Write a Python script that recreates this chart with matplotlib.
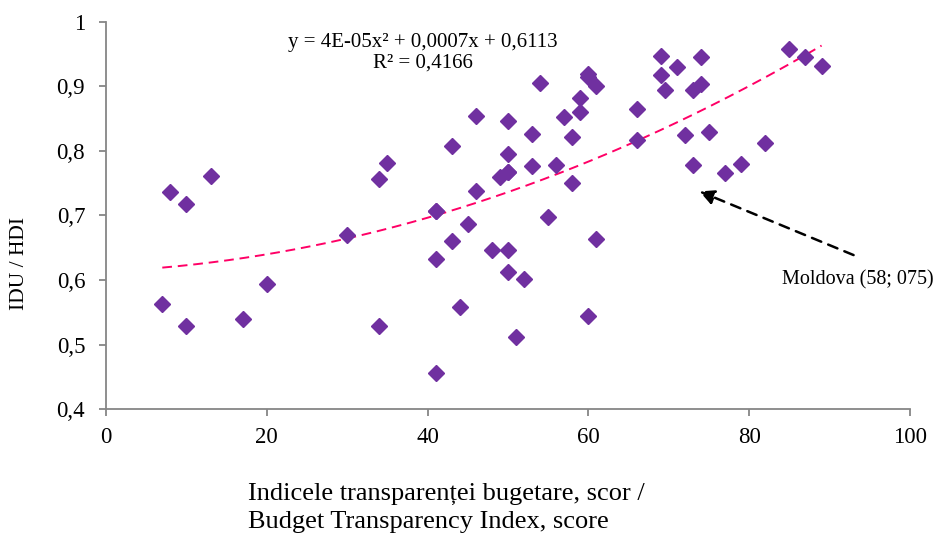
import matplotlib.pyplot as plt
import numpy as np

# Indicele transparentei bugetare (x) si IDU (y)
scor = [7, 8, 10, 10, 13, 17, 20, 30, 34, 34, 35,
        41, 41, 41, 41, 43, 43, 44, 45, 46, 46, 48, 49, 50, 50, 50, 50, 50, 50,
        51, 52, 53, 53, 54, 55, 56, 57, 58, 58, 59, 59, 60, 60, 60, 61, 61,
        66, 66, 69, 69, 69.5, 71, 72, 73, 73, 74, 74, 75, 77, 79, 82, 85, 87, 89]
idu = [0.563, 0.736, 0.718, 0.529, 0.762, 0.540, 0.594, 0.669, 0.757, 0.529, 0.781,
       0.707, 0.633, 0.456, 0.707, 0.807, 0.660, 0.558, 0.687, 0.855, 0.738, 0.646, 0.760,
       0.846, 0.795, 0.767, 0.646, 0.612, 0.767,
       0.512, 0.602, 0.826, 0.777, 0.905, 0.698, 0.778, 0.852, 0.821, 0.751, 0.882, 0.860,
       0.920, 0.915, 0.544, 0.901, 0.664,
       0.865, 0.817, 0.948, 0.918, 0.894, 0.930, 0.825, 0.894, 0.778, 0.945, 0.904, 0.829,
       0.766, 0.780, 0.813, 0.958, 0.946, 0.932]

ecuatie = 'y = 4E-05x² + 0,0007x + 0,6113'
r_patrat = 'R² = 0,4166'
moldova_text = 'Moldova (58; 075)'

plt.rcParams['font.family'] = ['Liberation Serif', 'DejaVu Serif']

fig = plt.figure(figsize=(9.44, 5.35), dpi=100)
ax = fig.add_axes([0.1123, 0.2355, 0.8517, 0.7234])

x = np.array(scor)
y = np.array(idu)
ax.plot(x, y, linestyle='none', marker='D', markersize=8,
        color='#7030A0', markeredgecolor='#7030A0', zorder=3)

# linie de tendinta polinomiala (ordin 2)
coef = np.polyfit(x, y, 2)
xt = np.linspace(x.min(), x.max(), 200)
ax.plot(xt, np.polyval(coef, xt), linestyle=(0, (5, 3)), color='#FF0066',
        linewidth=1.4, zorder=2)

ax.text(39.4, 0.961, ecuatie, ha='center', va='baseline', fontsize=15)
ax.text(39.4, 0.930, r_patrat, ha='center', va='baseline', fontsize=15)

# sageata catre Moldova
ax.annotate('', xy=(73.5, 0.739), xytext=(93.3, 0.637),
            arrowprops=dict(arrowstyle='-|>', linestyle=(0, (4, 3)), lw=1.8,
                            color='black', mutation_scale=22))
ax.text(84.1, 0.600, moldova_text, ha='left', va='center', fontsize=14.5,
        clip_on=False)

ax.set_xlim(0, 100)
ax.set_ylim(0.4, 1.0)
ax.set_xticks(np.arange(0, 101, 20))
ax.set_yticks(np.arange(0.4, 1.01, 0.1))
ax.set_yticklabels(['0,4', '0,5', '0,6', '0,7', '0,8', '0,9', '1'])

for side in ['top', 'right']:
    ax.spines[side].set_visible(False)
for side in ['left', 'bottom']:
    ax.spines[side].set_color('#868686')
    ax.spines[side].set_linewidth(1.3)
ax.tick_params(axis='both', direction='out', length=5, width=1.3,
               color='#868686', labelsize=16.5)
ax.tick_params(axis='y', pad=10)
ax.tick_params(axis='x', pad=8)

fig.text(20 / 944, 1 - 263 / 535, 'IDU / HDI', rotation=90, ha='center',
         va='center', fontsize=15.5)
fig.text(248 / 944, 1 - 500 / 535, 'Indicele transparenței bugetare, scor /',
         ha='left', va='baseline', fontsize=19)
fig.text(248 / 944, 1 - 528 / 535, 'Budget Transparency Index, score',
         ha='left', va='baseline', fontsize=19)

fig.savefig('out.png', dpi=100)
plt.close(fig)
